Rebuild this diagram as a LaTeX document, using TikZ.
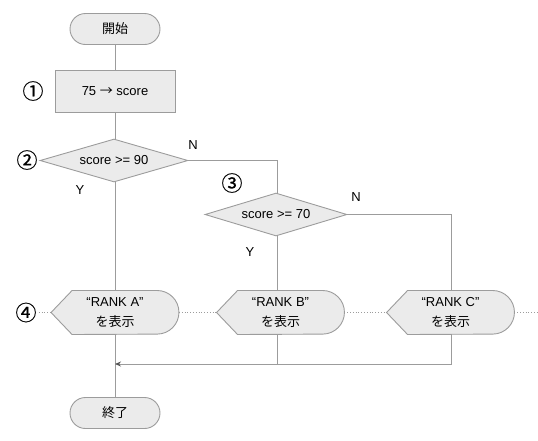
\documentclass[tikz,border=0pt]{standalone}
\usepackage{fontspec}
\setmainfont{Liberation Sans}
\newfontfamily\jp{Noto Sans CJK JP}
\newfontfamily\circb{Noto Sans CJK JP}[FakeBold=0.6]
\usetikzlibrary{shapes.geometric,shapes.misc,backgrounds,arrows.meta}
\definecolor{linegray}{HTML}{9C9C9C}
\definecolor{boxfill}{HTML}{EBEBEB}
\definecolor{arrowgray}{HTML}{555555}
\newcommand\dispshape[1]{%
  \draw[shapestyle] (#1.west) -- ([xshift=21pt]#1.north west)
    -- ([xshift=-21.8pt]#1.north east)
    arc[start angle=90, end angle=-90, radius=21.8pt]
    -- ([xshift=21pt]#1.south west) -- cycle;}
\begin{document}
\begin{tikzpicture}[x=1pt,y=1pt,
  txt/.style={font=\fontsize{13}{15}\selectfont},
  box/.style={txt, draw=linegray, fill=boxfill, line width=0.9pt, inner sep=0pt},
  term/.style={box, rounded rectangle, minimum width=90pt, minimum height=31pt},
  procbox/.style={box, rectangle, minimum width=120pt, minimum height=42pt},
  dec/.style={box, diamond, aspect=3.4, minimum height=43pt},
  disp/.style={inner sep=0pt, minimum width=127.5pt, minimum height=43.6pt,
    align=center, font=\fontsize{13}{20}\selectfont},
  shapestyle/.style={draw=linegray, fill=boxfill, line width=0.9pt},
  flow/.style={draw=linegray, line width=0.9pt},
  dotline/.style={draw=linegray, line width=0.8pt, dotted},
  numlabel/.style={font=\circb\fontsize{21}{21}\selectfont, inner sep=0pt},
  yn/.style={txt, inner sep=0pt}
]
\useasboundingbox (0,0) rectangle (538,-440);

% nodes
\node[term] (start) at (115,-29) {\jp 開始};
\node[procbox] (p1) at (115,-91) {75 {\jp →} score};
\node[dec, minimum width=148pt] (d1) at (114,-160.5) {score >= 90};
\node[dec, minimum width=142pt] (d2) at (276,-214.5) {score >= 70};
\node[disp] (A) at (115,-312.5) {“RANK A”\\{\jp を表示}};
\node[disp] (B) at (280.5,-312.5) {“RANK B”\\{\jp を表示}};
\node[disp] (C) at (450.5,-312.5) {“RANK C”\\{\jp を表示}};
\node[term] (end) at (115,-413) {\jp 終了};

\begin{scope}[on background layer]
  \dispshape{A}
  \dispshape{B}
  \dispshape{C}
\end{scope}

% number labels
\node[numlabel] (n1) at (33,-91) {①};
\node[numlabel] (n2) at (27,-160) {②};
\node[numlabel] (n3) at (232,-183) {③};
\node[numlabel] (n4) at (26,-312.5) {④};

% Y / N labels
\node[yn] (y1) at (80,-190) {Y};
\node[yn] (nn1) at (193,-145) {N};
\node[yn] (y2) at (250,-252) {Y};
\node[yn] (nn2) at (356,-197) {N};

% coordinates
\coordinate (jA) at (115,-364);
\coordinate (jB) at (277,-364);
\coordinate (edge) at (538,-312.5);

% connectors
\begin{scope}[on background layer]
\draw[flow] (start.south) -- (p1.north);
\draw[flow] (p1.south) -- (p1.south |- d1.north);
\draw[flow] (p1.south |- d1.south) -- (A.north);
\draw[flow] (d1.east) -| (277,-193);
\draw[flow] (277,-236) -- (277,-291);
\draw[flow] (d2.east) -| (451,-291);
\draw[flow] (A.south) -- (end.north);
\draw[flow] (277,-334) -- (jB);
\draw[flow, -{Stealth[length=6pt, width=5pt, color=arrowgray]}] (451,-334) |- (jA);
\draw[dotline, shorten <=2pt] (n4.east) -- (A.west);
\draw[dotline] (A.east) -- (B.west);
\draw[dotline] (B.east) -- (C.west);
\draw[dotline] (C.east) -- (edge);
\end{scope}
\end{tikzpicture}
\end{document}
